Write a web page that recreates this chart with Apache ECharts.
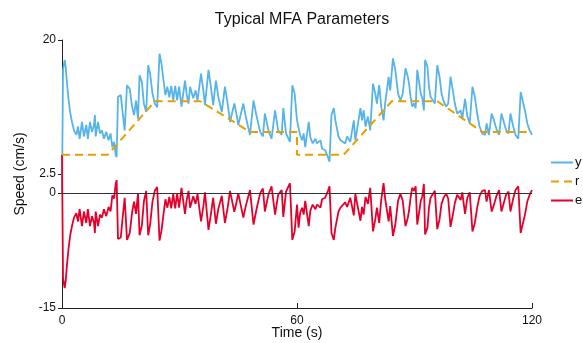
<!DOCTYPE html>
<html>
<head>
<meta charset="utf-8">
<script src="https://cdn.jsdelivr.net/npm/echarts@6/dist/echarts.min.js"></script>
<style>
	html, body { margin: 0; padding: 0; background: #fff; }
	#chart { width: 583px; height: 343px; }
</style>
</head>
<body>
<div id="chart"></div>
<script>
// sample times (s), shared by y and e
var times = [0,0.26,0.68,0.94,1.28,1.7,2.13,2.55,3.06,3.66,
	4.08,4.5,5.1,5.6,6.2,6.6,7.15,7.66,8.17,8.4,
	8.6,9.2,9.7,10.2,10.7,11.3,11.9,12.4,12.85,13.3,
	13.7,13.95,14.3,15.0,15.6,16.0,16.6,17.3,17.9,18.4,
	18.9,19.4,19.8,20.4,20.9,21.5,22.0,22.5,23.1,23.7,
	24.3,24.9,25.4,25.9,26.4,26.9,27.4,27.9,28.4,28.9,
	29.4,29.9,30.5,31.4,31.8,32.3,32.7,33.5,34.1,34.6,
	35.5,36.1,36.5,37.4,38.0,38.6,39.3,39.9,40.8,41.6,
	42.3,42.9,44.0,44.6,45.0,46.3,46.9,48.0,48.9,49.7,
	50.6,51.3,51.8,52.7,53.5,54.4,55.2,56.1,56.5,57.2,
	58.2,58.8,59.4,60.0,60.4,60.8,61.3,61.7,62.1,63.0,
	63.4,64.0,64.7,65.1,66.0,66.4,67.2,67.9,68.3,68.8,
	69.4,69.8,70.6,71.1,71.5,72.3,72.8,73.6,74.5,74.9,
	75.3,76.2,76.6,77.0,77.5,78.1,78.7,79.4,80.0,80.4,
	81.0,81.5,82.1,82.5,83.4,83.8,84.5,85.1,85.8,86.4,
	87.0,87.7,88.3,88.6,89.0,89.4,89.9,90.3,90.7,91.1,
	91.6,92.0,92.4,92.7,93.3,93.7,94.1,94.7,95.2,95.8,
	96.4,96.9,97.5,98.1,98.6,99.2,99.8,100.3,100.9,101.4,
	101.8,102.2,102.9,103.5,104.1,104.8,105.4,106.0,106.6,107.3,
	108.0,108.4,109.0,109.7,110.3,110.9,111.6,112.2,112.9,113.4,
	114.0,114.5,115.2,115.8,116.5,117.1,117.5,118.2,118.8,119.4,
	120.0];

// measured speed y
var yValues = [0,16.1,17.4,16.5,14.3,12.1,10.4,9.3,8.2,7.6,
	8.7,7.1,9.3,7.4,8.9,7.1,9.3,8.0,8.9,10.2,
	7.4,9.3,7.8,8.2,7.1,8.0,6.9,7.8,6.0,6.7,
	5.0,4.7,12.6,12.8,10.0,8.2,14.1,13.6,11.3,10.2,
	12.1,9.7,15.4,14.5,11.7,10.6,16.7,15.6,13.0,11.7,
	11.2,18.2,16.9,14.8,12.8,13.9,12.5,14.0,12.1,14.0,
	12.1,13.9,11.3,14.7,13.0,11.7,13.9,12.4,13.4,12.1,
	15.6,13.4,11.5,16.1,13.9,11.5,14.7,12.6,10.6,13.9,
	11.7,9.3,11.7,10.2,8.9,11.7,10.0,7.6,12.1,10.0,
	8.0,7.4,10.4,8.2,7.1,10.8,8.2,7.6,11.1,7.8,
	6.7,14.1,13.0,9.5,9.5,7.6,6.9,7.8,6.0,9.3,
	7.3,6.5,7.1,6.5,6.9,5.8,5.6,4.7,4.1,10.2,
	11.1,9.5,7.4,6.9,7.1,6.5,7.4,6.7,9.5,6.9,
	8.2,11.1,9.5,10.8,8.7,10.0,8.2,14.3,13.0,11.7,
	14.1,11.3,9.5,11.7,15.2,13.4,17.6,16.1,13.0,12.1,
	13.0,16.3,15.2,14.3,12.6,11.3,11.7,11.1,16.1,14.8,
	13.0,12.4,10.8,17.4,16.5,13.9,12.6,12.1,11.7,16.7,
	15.2,13.0,11.9,11.3,11.7,15.2,13.4,11.7,10.4,10.2,
	10.8,9.7,12.3,10.0,9.1,13.9,12.6,10.4,8.7,7.8,
	7.6,9.1,7.6,10.4,9.5,8.4,7.6,10.4,9.1,8.2,
	7.8,10.4,8.7,7.6,7.1,13.2,13.0,10.8,9.1,8.2,
	7.6];

// error e
var eValues = [5,-11.1,-12.4,-11.5,-9.3,-7.1,-5.4,-4.3,-3.2,-2.6,
	-3.7,-2.1,-4.3,-2.4,-3.9,-2.1,-4.3,-3.0,-3.9,-5.2,
	-2.4,-4.3,-2.8,-3.2,-2.1,-3.0,-1.8,-2.4,-0.3,-0.7,
	1.2,1.7,-6.0,-5.8,-2.6,-0.6,-6.1,-5.2,-2.5,-1.1,
	-2.7,0,-5.5,-4.2,-1.1,0.3,-5.5,-4.1,-1.1,0.3,
	0.8,-6.2,-4.9,-2.8,-0.8,-1.9,-0.5,-2.0,-0.1,-2.0,
	-0.1,-1.9,0.7,-2.7,-1.0,0.3,-1.9,-0.4,-1.4,-0.1,
	-3.7,-1.7,0.1,-4.8,-2.8,-0.6,-4.0,-2.1,-0.35,-3.9,
	-1.9,0.3,-2.45,-1.1,0,-3.2,-1.7,0.4,-4.1,-2.0,
	0,0.6,-2.4,-0.2,0.9,-2.8,-0.2,0.4,-3.1,0.2,
	1.3,-6.1,-5.0,-1.5,-4.5,-2.6,-1.9,-2.8,-1.0,-4.3,
	-2.3,-1.5,-2.1,-1.5,-1.9,-0.8,-0.6,0.3,0.9,-5.2,
	-6.1,-4.5,-2.4,-1.9,-2.1,-1.2,-1.8,-0.6,-2.9,-0.1,
	-1.2,-3.6,-1.8,-2.8,-0.5,-1.4,0.7,-5.0,-3.4,-1.9,
	-3.9,-0.9,1.3,-0.7,-3.7,-1.7,-5.6,-4.1,-1.0,-0.1,
	-1.0,-4.3,-3.2,-2.3,-0.6,0.7,0.3,0.9,-4.1,-2.8,
	-1.0,-0.4,1.2,-5.4,-4.5,-1.9,-0.6,-0.1,0.3,-4.7,
	-3.4,-1.4,-0.5,-0.1,-0.7,-4.4,-2.8,-1.3,-0.2,-0.1,
	-0.9,0.1,-2.7,-0.6,0.1,-5.0,-3.9,-1.9,-0.4,0.3,
	0.4,-1.1,0.4,-2.4,-1.5,-0.4,0.4,-2.4,-1.1,-0.2,
	0.2,-2.4,-0.7,0.4,0.9,-5.2,-5.0,-2.8,-1.1,-0.2,
	0.4];

// reference r (piecewise)
var rTimes  = [0, 11.7, 23.7, 35.3, 48.0, 60.0, 60.0, 71.9, 84.2, 95.8, 107.3, 120];
var rValues = [5, 5,    12,   12,   8,    8,    5,    5,    12,   12,   8,     8];

var yTicks = [-15, 0, 2.5, 20];
var xTicks = [0, 60, 120];

function zip(a, b){
	var out = [];
	for(var i = 0; i < Math.min(a.length, b.length); i++){
		out.push([a[i], b[i]]);
	}
	return out;
}

var font = "'Liberation Sans', Arial, sans-serif";
var chart = echarts.init(document.getElementById('chart'));
chart.setOption({
	animation: false,
	backgroundColor: '#fff',
	textStyle: { fontFamily: font },
	title: {
		text: 'Typical MFA Parameters',
		left: 297,
		textAlign: 'center',
		top: 7,
		textStyle: { fontFamily: font, fontSize: 16, fontWeight: 'normal', color: '#111' }
	},
	grid: { left: 62, right: 51, top: 40, bottom: 35, outerBoundsMode: 'none', containLabel: false },
	legend: {
		orient: 'vertical',
		left: 545,
		top: 151,
		itemWidth: 22,
		itemHeight: 12,
		itemGap: 6,
		itemStyle: { opacity: 0 },
		textStyle: { fontFamily: font, fontSize: 13, color: '#111', padding: [0, 0, 0, -3] },
		data: ['y', 'r', 'e']
	},
	xAxis: {
		type: 'value',
		min: 0, max: 120, interval: 60,
		name: 'Time (s)',
		nameLocation: 'middle',
		nameGap: 18,
		nameMoveOverlap: false,
		nameTextStyle: { fontFamily: font, fontSize: 14, color: '#111' },
		axisLine: { onZero: false, lineStyle: { color: '#222', width: 1 } },
		axisTick: { inside: true, length: 5, lineStyle: { color: '#222' }, customValues: xTicks },
		axisLabel: { fontFamily: font, fontSize: 12, color: '#111', margin: 7, customValues: xTicks },
		splitLine: { show: false }
	},
	yAxis: {
		type: 'value',
		min: -15, max: 20,
		name: 'Speed (cm/s)',
		nameLocation: 'middle',
		nameGap: 35,
		nameMoveOverlap: false,
		nameTextStyle: { fontFamily: font, fontSize: 14, color: '#111' },
		axisLine: { show: true, onZero: false, lineStyle: { color: '#222', width: 1 } },
		axisTick: { show: true, inside: false, length: 4, lineStyle: { color: '#222' }, customValues: yTicks },
		axisLabel: { fontFamily: font, fontSize: 12, color: '#111', margin: 6, customValues: yTicks },
		splitLine: { show: false }
	},
	series: [
		{
			name: 'y',
			type: 'line',
			data: zip(times, yValues),
			symbol: 'none',
			lineStyle: { color: '#56B4E9', width: 1.8 },
			itemStyle: { color: '#56B4E9' },
			z: 3
		},
		{
			name: 'r',
			type: 'line',
			data: zip(rTimes, rValues),
			symbol: 'none',
			lineStyle: { color: '#E69F00', width: 2, type: [8, 5] },
			itemStyle: { color: '#E69F00' },
			z: 4
		},
		{
			name: 'e',
			type: 'line',
			data: zip(times, eValues),
			symbol: 'none',
			lineStyle: { color: '#E4002B', width: 1.8 },
			itemStyle: { color: '#E4002B' },
			z: 3,
			markLine: {
				silent: true,
				symbol: 'none',
				label: { show: false },
				lineStyle: { color: '#333', width: 1, type: 'solid' },
				data: [{ yAxis: 0 }]
			}
		}
	]
});
</script>
</body>
</html>
